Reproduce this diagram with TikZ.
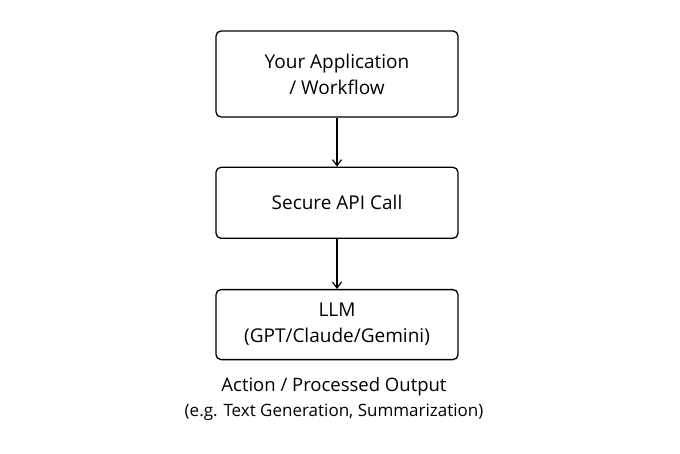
\documentclass[tikz,border=0pt]{standalone}
\usepackage{fontspec}
\setmainfont{Open Sans}
\usetikzlibrary{positioning,arrows.meta}

\begin{document}
\begin{tikzpicture}[x=1pt,y=1pt,->,>={Straight Barb[length=6pt,width=9pt]},line width=1.2pt,
                    node distance=49pt]
  \tikzset{box/.style={draw,rounded corners=5pt,line width=1.3pt,minimum width=242pt,
                       align=center,font=\fontsize{19}{26}\selectfont}}
  \useasboundingbox (0,0) rectangle (680,453);

  \node[box,minimum height=86pt] (App)    at (337,379)        {Your Application\\ / Workflow};
  \node[box,minimum height=71pt] (Api)    [below=of App]      {Secure API Call};
  \node[box,minimum height=70pt] (Llm)    [below=50pt of Api] {LLM\\ (GPT/Claude/Gemini)};
  \node[align=center,font=\fontsize{18.5}{25}\selectfont] (Output) at (334,54)
       {Action / Processed Output\\ {\fontsize{17}{20}\selectfont(e.g. Text Generation, Summarization)}};

  \draw (App) -- (Api);
  \draw (Api) -- (Llm);
\end{tikzpicture}
\end{document}
